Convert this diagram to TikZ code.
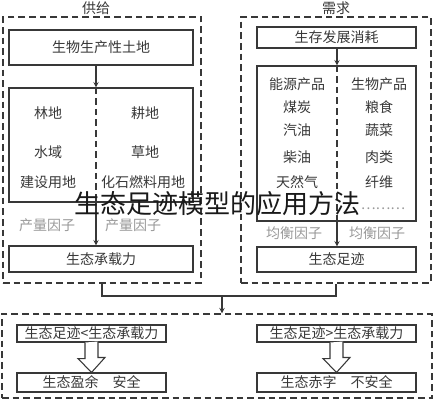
\documentclass[tikz,border=0pt]{standalone}
\usepackage{fontspec}
\usepackage{xcolor}
\usepackage{tikz}
\usetikzlibrary{positioning}
\usetikzlibrary{arrows,shapes}
\usetikzlibrary{calc}
\newfontfamily\cjk{Noto Sans CJK SC}
\definecolor{ink}{gray}{0.22}
\definecolor{faint}{gray}{0.6}
\tikzstyle{txt}=[font=\cjk\fontsize{10.5}{12}\selectfont,text=ink,inner sep=0pt]
\tikzstyle{box}=[txt,rectangle,draw=ink,line width=0.8pt]
\tikzstyle{outer}=[rectangle,draw=ink,line width=1pt,dash pattern=on 5pt off 3pt]
\tikzstyle{factor}=[txt,text=faint]
\tikzstyle{edge}=[draw=ink,line width=0.8pt,->,>=stealth]
\tikzstyle{divider}=[draw=ink,line width=0.8pt,dash pattern=on 5pt off 3pt]
\tikzstyle{hollow}=[draw=ink,line width=0.8pt,fill=white]

\begin{document}
\begin{tikzpicture}[x=0.75pt,y=-0.75pt]

  \path[fill=white,use as bounding box] (0,0) rectangle (434,400);

  % dashed frames
  \node[outer,minimum width=148.5pt,minimum height=199.5pt] (supply) at (102,150) {};
  \node[outer,minimum width=142.5pt,minimum height=199.5pt] (demand) at (336,150) {};
  \node[outer,minimum width=322.5pt,minimum height=63pt] (result) at (217,356) {};

  \node[txt] (supplytitle) at (96,8) {供给};
  \node[txt] (demandtitle) at (336,8) {需求};

  % supply side
  \node[box,minimum width=138pt,minimum height=26.25pt] (land) at (101,47.5) {生物生产性土地};
  \node[box,minimum width=138pt,minimum height=85.5pt] (landtypes) at (101,145) {};
  \node[box,minimum width=138pt,minimum height=19.5pt] (capacity) at (101,259) {生态承载力};
  \coordinate (lmid) at (96,0);

  \foreach \x/\y/\name/\label in {48/113/lin/林地, 145/113/geng/耕地, 48/152/shui/水域, 145/152/cao/草地, 48/182/jian/建设用地, 143/182/hua/化石燃料用地}
          \node[txt] (\name) at (\x,\y) {\label};

  \foreach \x/\y/\name in {47/225/yieldl, 133/225/yieldr}
          \node[factor] (\name) at (\x,\y) {产量因子};

  % demand side
  \node[box,minimum width=119.25pt,minimum height=15.75pt] (consume) at (336.5,37.5) {生存发展消耗};
  \node[box,minimum width=119.25pt,minimum height=116.25pt] (goods) at (336.5,143.5) {};
  \node[box,minimum width=119.25pt,minimum height=18.75pt] (footprint) at (336.5,259.5) {生态足迹};
  \coordinate (rmid) at (337,0);

  \foreach \x/\y/\name/\label in {297/84/energy/能源产品, 297/107/coal/煤炭, 297/130/petrol/汽油, 297/157/diesel/柴油, 297/182/gas/天然气,
                                   379/84/bio/生物产品, 379/107/grain/粮食, 379/130/veg/蔬菜, 379/157/meat/肉类, 379/182/fibre/纤维}
          \node[txt] (\name) at (\x,\y) {\label};

  \node[factor] (more) at (383,209) {………};

  \foreach \x/\y/\name in {294/233/equil, 377/233/equir}
          \node[factor] (\name) at (\x,\y) {均衡因子};

  % results
  \node[box,minimum width=111.75pt,minimum height=12.75pt] (cmpL) at (91.5,333.5) {生态足迹<生态承载力};
  \node[box,minimum width=111.75pt,minimum height=14.25pt] (surplus) at (91.5,382.5) {生态盈余\quad 安全};
  \node[box,minimum width=119.25pt,minimum height=12.75pt] (cmpR) at (336.5,333.5) {生态足迹>生态承载力};
  \node[box,minimum width=119.25pt,minimum height=14.25pt] (deficit) at (336.5,382.5) {生态赤字\quad 不安全};

  % connectors
  \draw[divider] (landtypes.north -| lmid) -- (landtypes.south -| lmid);
  \draw[divider] (goods.north -| rmid) -- (goods.south -| rmid);

  \path[edge] (land.south -| lmid) -- (landtypes.north -| lmid);
  \path[edge] (landtypes.south -| lmid) -- (capacity.north -| lmid);
  \path[edge] (consume.south -| rmid) -- (goods.north -| rmid);
  \path[edge] (goods.south -| rmid) -- (footprint.north -| rmid);

  \coordinate (join) at (222,296);
  \draw[ink,line width=0.8pt] (supply.south) |- (join) -| (demand.south);
  \path[edge] (join) -- (join |- result.north);

  \foreach \a/\b in {cmpL/surplus, cmpR/deficit}
         \draw[hollow] ($(\a.south)+(-6.5,0)$) -- ++(0,16) -- ++(-7,0) -- (\b.north) -- ++(13.5,-15) -- ++(-7,0) -- ++(0,-16);

  \node[font=\cjk\fontsize{19.5}{22}\selectfont,text=black!90,inner sep=0pt] (caption) at (217.5,204) {生态足迹模型的应用方法};

\end{tikzpicture}
\end{document}
